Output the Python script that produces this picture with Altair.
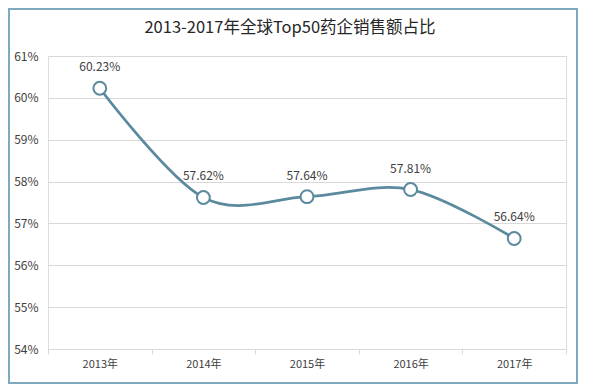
import altair as alt
import pandas as pd

years = ["2013年", "2014年", "2015年", "2016年", "2017年"]
shares = [0.6023, 0.5762, 0.5764, 0.5781, 0.5664]
title_text = "2013-2017年全球Top50药企销售额占比"

df = pd.DataFrame({"year": years, "share": shares})

FONT = "Noto Sans CJK SC"
LINE = "#5B8A9E"

x_enc = alt.X(
    "year:O",
    sort=years,
    scale=alt.Scale(type="band", paddingInner=0, paddingOuter=0),
    bandPosition=0.5,
    axis=alt.Axis(
        title=None, labelAngle=0, tickBand="extent", ticks=True, tickSize=5,
        tickColor="#D9D9D9", domainColor="#D9D9D9", labelPadding=4,
        labelFontSize=11, labelColor="#404040", labelFont=FONT, grid=False,
    ),
)
y_enc = alt.Y(
    "share:Q",
    scale=alt.Scale(domain=[0.54, 0.61], nice=False, zero=False),
    axis=alt.Axis(
        title=None, format=".0%", values=[0.54, 0.55, 0.56, 0.57, 0.58, 0.59, 0.60, 0.61],
        ticks=False, domain=False, gridColor="#D9D9D9", gridWidth=1,
        labelPadding=10, labelFontSize=12, labelColor="#404040", labelFont=FONT,
    ),
)

base = alt.Chart(df)

border = alt.Chart(alt.Data(values=[{}])).mark_rect(
    fill=None, stroke="#7FA9BE", strokeWidth=2
).encode(
    x=alt.value(-39), x2=alt.value(529), y=alt.value(-47), y2=alt.value(327)
)

line = base.mark_line(interpolate="cardinal", color=LINE, strokeWidth=2.8).encode(x=x_enc, y=y_enc)
pts = base.mark_point(
    filled=True, fill="white", stroke=LINE, strokeWidth=2, size=165, opacity=1
).encode(x=x_enc, y=y_enc)
labels = base.mark_text(
    dy=-21, fontSize=12, color="#404040", font=FONT, baseline="middle"
).encode(x=x_enc, y=y_enc, text=alt.Text("share:Q", format=".2%"))

chart = alt.layer(border, line, pts, labels).properties(
    width=518, height=293,
    autosize=alt.AutoSizeParams(type="none"),
    padding={"left": 40, "top": 48, "right": 14, "bottom": 36},
    title=alt.TitleParams(
        title_text, fontSize=16.5, font=FONT, fontWeight="normal", color="#262626",
        anchor="middle", offset=20, dx=-17, dy=48,
    ),
).configure_view(strokeWidth=0).configure(background="white")

chart.save("out.html", embed_options={"renderer": "svg", "actions": False})
